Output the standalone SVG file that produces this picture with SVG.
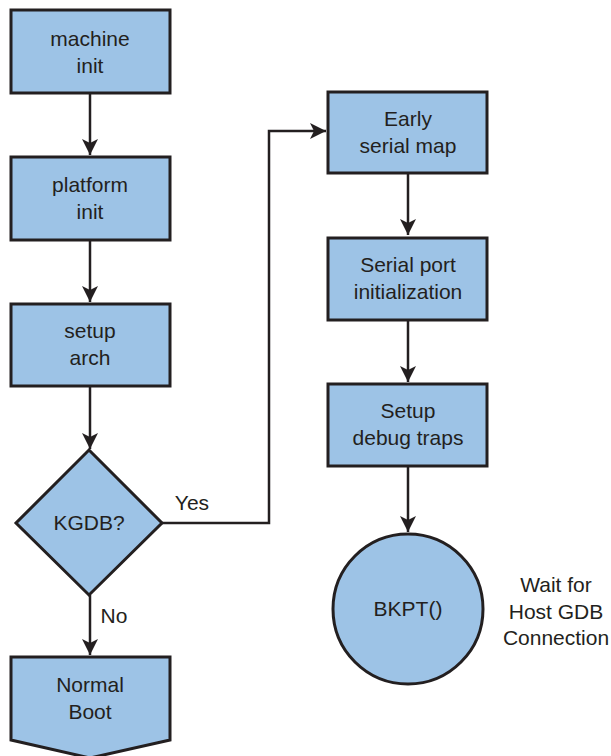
<svg xmlns="http://www.w3.org/2000/svg" width="611" height="756" viewBox="0 0 611 756">
<style>
.n{fill:#9dc3e6;stroke:#231f20;stroke-width:3}
.t{font-family:"Liberation Sans",Arial,sans-serif;font-size:21px;fill:#231f20;text-anchor:middle}
.c{fill:none;stroke:#231f20;stroke-width:2.5}
</style>
<defs>
<marker id="a" markerUnits="userSpaceOnUse" markerWidth="18" markerHeight="16" refX="16" refY="8" orient="auto">
<path d="M0,0 L16,8 L0,16 L4,8 Z" fill="#231f20"/>
</marker>
</defs>
<g id="connectors">
<path class="c" d="M90,93 V155" marker-end="url(#a)"/>
<path class="c" d="M90,240 V302" marker-end="url(#a)"/>
<path class="c" d="M90,386 V449" marker-end="url(#a)"/>
<path class="c" d="M90,595 V655" marker-end="url(#a)"/>
<path class="c" d="M162,523 H269 V131 H326" marker-end="url(#a)"/>
<path class="c" d="M408,173 V235" marker-end="url(#a)"/>
<path class="c" d="M408,320 V382" marker-end="url(#a)"/>
<path class="c" d="M408,466 V532" marker-end="url(#a)"/>
<text class="t" x="192" y="510">Yes</text>
<text class="t" x="114" y="623">No</text>
</g>
<g id="machine-init">
<rect class="n" x="11" y="10" width="159" height="83"/>
<text class="t" x="90" y="46">machine</text>
<text class="t" x="90" y="73">init</text>
</g>
<g id="platform-init">
<rect class="n" x="11" y="157" width="159" height="83"/>
<text class="t" x="90" y="192">platform</text>
<text class="t" x="90" y="219">init</text>
</g>
<g id="setup-arch">
<rect class="n" x="11" y="304" width="159" height="82"/>
<text class="t" x="90" y="338">setup</text>
<text class="t" x="90" y="365">arch</text>
</g>
<g id="kgdb">
<polygon class="n" points="89,450 162,523 89,595 16,523"/>
<text class="t" x="89" y="530">KGDB?</text>
</g>
<g id="normal-boot">
<polygon class="n" points="11,657 170,657 170,740 90,758 11,740"/>
<text class="t" x="90" y="692">Normal</text>
<text class="t" x="90" y="719">Boot</text>
</g>
<g id="early-serial-map">
<rect class="n" x="328" y="92" width="159" height="81"/>
<text class="t" x="408" y="126">Early</text>
<text class="t" x="408" y="153">serial map</text>
</g>
<g id="serial-port-init">
<rect class="n" x="328" y="238" width="159" height="82"/>
<text class="t" x="408" y="272">Serial port</text>
<text class="t" x="408" y="299">initialization</text>
</g>
<g id="setup-debug-traps">
<rect class="n" x="328" y="384" width="159" height="82"/>
<text class="t" x="408" y="418">Setup</text>
<text class="t" x="408" y="445">debug traps</text>
</g>
<g id="bkpt">
<circle class="n" cx="408" cy="609" r="75"/>
<text class="t" x="408" y="616">BKPT()</text>
</g>
<g id="wait-note">
<text class="t" x="556" y="592">Wait for</text>
<text class="t" x="556" y="619">Host GDB</text>
<text class="t" x="556" y="645">Connection</text>
</g>
</svg>
